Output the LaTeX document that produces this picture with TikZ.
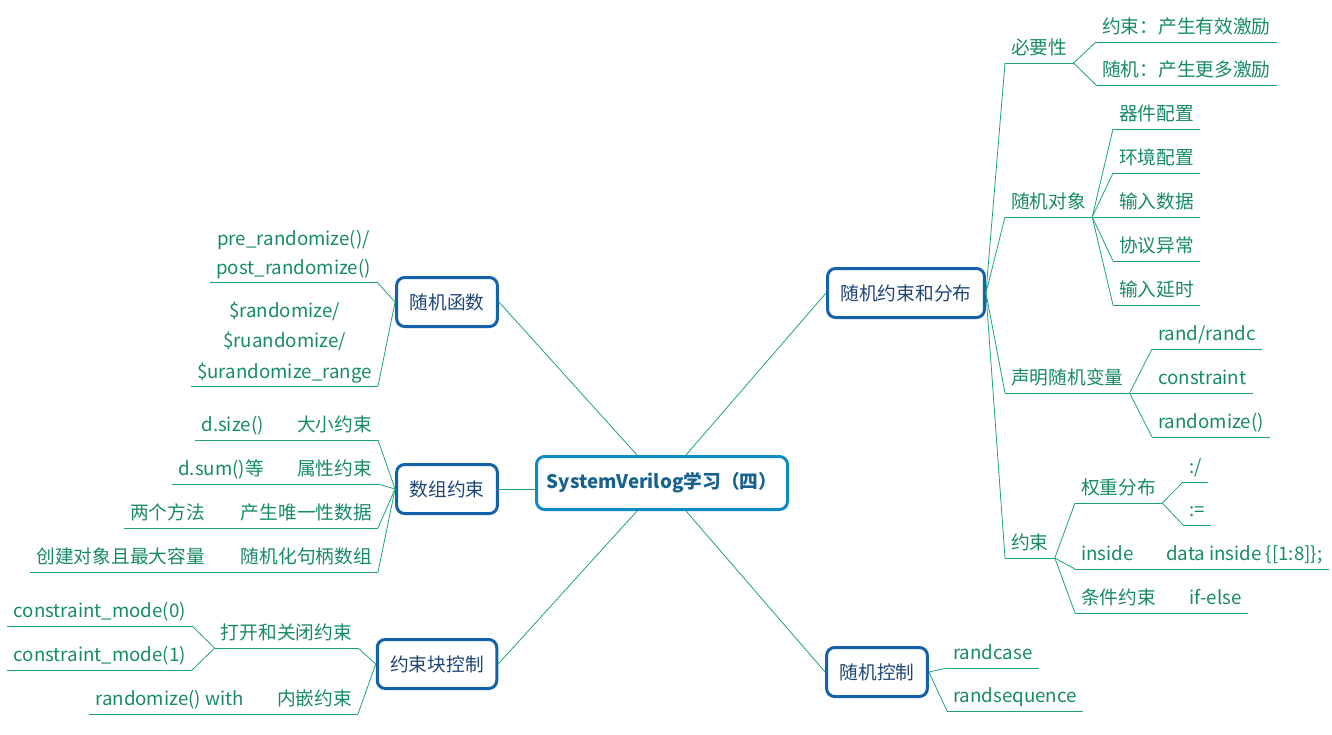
\documentclass[tikz,border=0pt]{standalone}
\usepackage{fontspec}
\setmainfont{Noto Sans CJK SC}
\definecolor{rootline}{HTML}{0E8AC4}
\definecolor{roottext}{HTML}{17618F}
\definecolor{topicline}{HTML}{1562AC}
\definecolor{topictext}{HTML}{1D4677}
\definecolor{leaftext}{HTML}{168A69}
\definecolor{linkgreen}{HTML}{1BA47C}
\tikzset{
  root/.style={draw=rootline, line width=3pt, rounded corners=8pt, fill=white,
    text=roottext, font=\fontsize{18.7}{22}\selectfont\bfseries,
    minimum width=251, minimum height=53},
  topic/.style={draw=topicline, line width=3pt, rounded corners=8pt, fill=white,
    text=topictext, minimum height=49, inner xsep=13},
  leaf/.style={text=leaftext, inner xsep=6, inner ysep=3, text depth=5pt},
  leafR/.style={leaf, anchor=south west},
  leafL/.style={leaf, anchor=south east},
  link/.style={draw=linkgreen, line width=1pt},
}
\begin{document}
\begin{tikzpicture}[x=1pt, y=-1pt, font=\fontsize{18.7}{29}\selectfont]
\useasboundingbox (0,0) rectangle (1332,734);

% Define the central and main topics
\node[root] (R) at (662,483) {SystemVerilog学习（四）};
\node[topic] (T1) at (906,293) {随机约束和分布};
\node[topic] (T2) at (877,672) {随机控制};
\node[topic] (T3) at (447,302) {随机函数};
\node[topic] (T4) at (447,489) {数组约束};
\node[topic] (T5) at (437,664) {约束块控制};

% Right side: 随机约束和分布
\node[leafR] (A) at (1005,63) {必要性};
\node[leafR] (A1) at (1096,42) {约束：产生有效激励};
\node[leafR] (A2) at (1096,85) {随机：产生更多激励};
\node[leafR] (B) at (1005,217) {随机对象};
\node[leafR] (B1) at (1113,129) {器件配置};
\node[leafR] (B2) at (1113,173) {环境配置};
\node[leafR] (B3) at (1113,217) {输入数据};
\node[leafR] (B4) at (1113,261) {协议异常};
\node[leafR] (B5) at (1113,305) {输入延时};
\node[leafR] (C) at (1005,393) {声明随机变量};
\node[leafR] (C1) at (1152,349) {rand/randc};
\node[leafR] (C2) at (1152,393) {constraint};
\node[leafR] (C3) at (1152,437) {randomize()};
\node[leafR] (D) at (1005,558) {约束};
\node[leafR] (D1) at (1075,503) {权重分布};
\node[leafR] (D11) at (1183,482) {:/};
\node[leafR] (D12) at (1183,525) {:=};
\node[leafR] (D2) at (1075,569) {inside};
\node[leafR] (D21) at (1160,569) {data inside \{[1:8]\};};
\node[leafR] (D3) at (1075,613) {条件约束};
\node[leafR] (D31) at (1183,613) {if-else};

% Right side: 随机控制
\node[leafR] (E1) at (947,668) {randcase};
\node[leafR] (E2) at (947,711) {randsequence};

% Left side: 随机函数
\node[leafL, align=center, text depth=, font=\fontsize{18.7}{29}\selectfont] (F1) at (377,282) {pre\_randomize()/\\post\_randomize()};
\node[leafL, align=center, text depth=, font=\fontsize{18.7}{30.5}\selectfont] (F2) at (378,386) {\$randomize/\\\$ruandomize/\\\$urandomize\_range};

% Left side: 数组约束
\node[leafL] (G1) at (378,440) {大小约束};
\node[leafL] (G11) at (270,440) {d.size()};
\node[leafL] (G2) at (378,484) {属性约束};
\node[leafL] (G21) at (270,484) {d.sum()等};
\node[leafL] (G3) at (378,528) {产生唯一性数据};
\node[leafL] (G31) at (211,528) {两个方法};
\node[leafL] (G4) at (378,572) {随机化句柄数组};
\node[leafL] (G41) at (211,572) {创建对象且最大容量};

% Left side: 约束块控制
\node[leafL] (H1) at (358,648) {打开和关闭约束};
\node[leafL] (H11) at (192,626) {constraint\_mode(0)};
\node[leafL] (H12) at (192,670) {constraint\_mode(1)};
\node[leafL] (H2) at (358,714) {内嵌约束};
\node[leafL] (H21) at (250,714) {randomize() with};

% Underlines
\foreach \n in {A,A1,A2,B,B1,B2,B3,B4,B5,C,C1,C2,C3,D,D1,D11,D12,D2,D21,D3,D31,
  E1,E2,F1,F2,G1,G11,G2,G21,G3,G31,G4,G41,H1,H11,H12,H2,H21}
  \draw[link] (\n.south west) -- (\n.south east);

% Define the edges
\begin{scope}[link, line width=0.8pt]
\draw ([xshift=24]R.north) -- (T1.west);
\draw ([xshift=24]R.south) -- (T2.west);
\draw ([xshift=-25]R.north) -- (T3.east);
\draw (T4.east) -- (T4.east -| R.west);
\draw ([xshift=-25]R.south) -- (T5.east);

\foreach \n in {A,B,C,D} \draw (T1.east) -- (\n.south west);
\foreach \n in {A1,A2} \draw (A.south east) -- (\n.south west);
\foreach \n in {B1,B2,B3,B4,B5} \draw (B.south east) -- (\n.south west);
\foreach \n in {C1,C2,C3} \draw (C.south east) -- (\n.south west);
\foreach \n in {D1,D2,D3} \draw (D.south east) -- (\n.south west);
\foreach \n in {D11,D12} \draw (D1.south east) -- (\n.south west);
\draw (D2.south east) -- (D21.south west);
\draw (D3.south east) -- (D31.south west);
\foreach \n in {E1,E2} \draw (T2.east) -- (\n.south west);

\foreach \n in {F1,F2} \draw (T3.west) -- (\n.south east);
\foreach \n in {G1,G2,G3,G4} \draw (T4.west) -- (\n.south east);
\draw (G1.south west) -- (G11.south east);
\draw (G2.south west) -- (G21.south east);
\draw (G3.south west) -- (G31.south east);
\draw (G4.south west) -- (G41.south east);
\foreach \n in {H1,H2} \draw (T5.west) -- (\n.south east);
\foreach \n in {H11,H12} \draw (H1.south west) -- (\n.south east);
\draw (H2.south west) -- (H21.south east);
\end{scope}
\end{tikzpicture}
\end{document}
